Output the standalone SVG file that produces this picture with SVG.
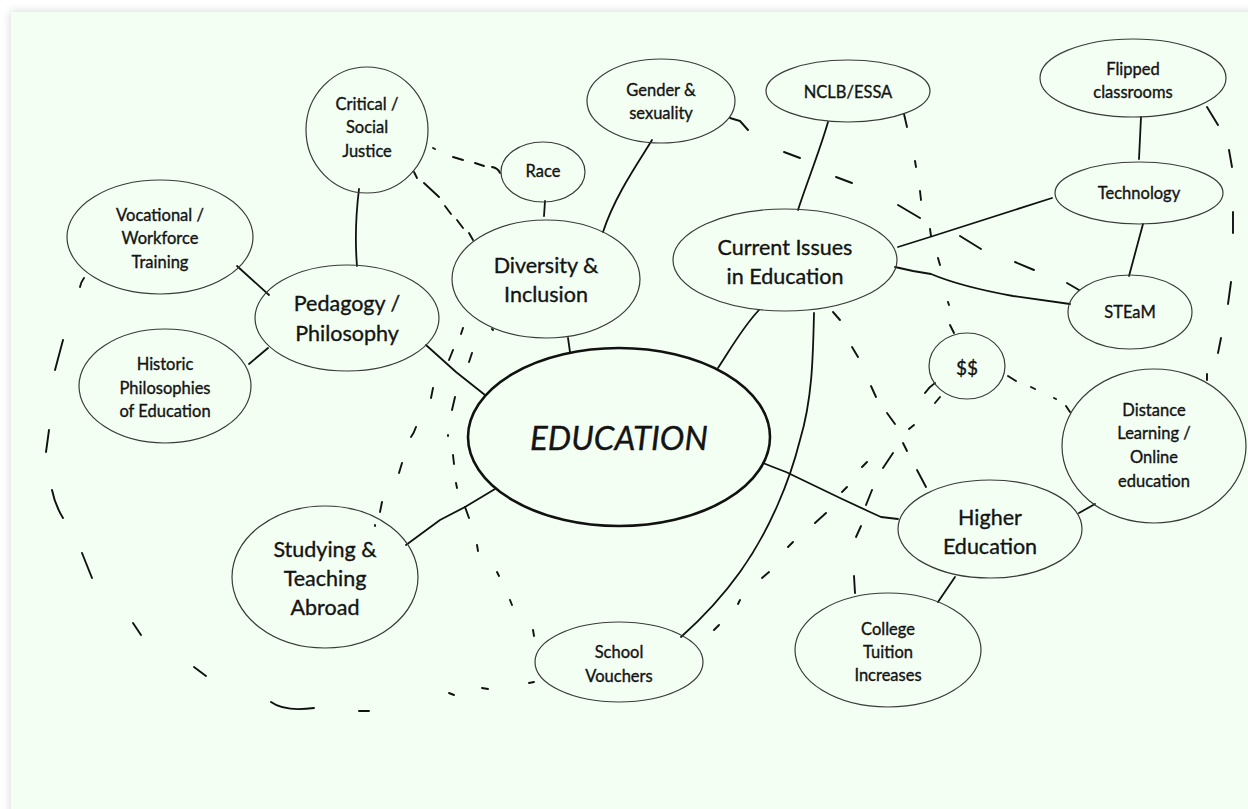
<svg xmlns="http://www.w3.org/2000/svg" width="1248" height="809" viewBox="0 0 1248 809">
<defs>
<filter id="sh" x="-5%" y="-5%" width="110%" height="110%">
<feGaussianBlur stdDeviation="5"/>
</filter>
<style>
.node ellipse{fill:none;stroke:#3a3a3a;stroke-width:1.2}
.node text{font-family:Lato,"Open Sans","Liberation Sans",sans-serif;fill:#141414;stroke:#141414;stroke-width:0.35;text-anchor:middle;dominant-baseline:central}
.s{font-size:16.5px}
.l{font-size:21.5px}
.solid path{fill:none;stroke:#111;stroke-width:1.8;stroke-linecap:round;stroke-linejoin:round}
.dash path{fill:none;stroke:#111;stroke-width:1.9;stroke-linecap:round;stroke-linejoin:round}
</style>
</defs>
<rect width="1248" height="809" fill="#ffffff"/>
<rect x="11" y="12" width="1260" height="820" fill="#b5b5b5" filter="url(#sh)" opacity="0.6"/>
<rect x="11" y="12" width="1237" height="797" fill="#f3fff3"/>

<g id="connectors">
<g class="solid">
<path d="M359,189 Q354,230 357,266"/>
<path d="M237,266 L269,295"/>
<path d="M249,364 L268,348"/>
<path d="M426,345 L456,372 L485,395"/>
<path d="M545,201 L544,216"/>
<path d="M652,140 C640,160 615,195 603,232"/>
<path d="M568,338 L570,352"/>
<path d="M828,122 C820,150 806,185 798,210"/>
<path d="M759,310 C742,328 730,350 718,368"/>
<path d="M814,313 C813,360 812,400 800,440 C790,480 770,530 740,572 C720,600 700,620 681,637"/>
<path d="M763,463 L773,467 L786,472 L840,498 L870,512 L881,517 L898,519"/>
<path d="M1079,513 L1095,504"/>
<path d="M955,577 L938,602"/>
<path d="M898,247 L930,237 L1052,198"/>
<path d="M895,267 L913,271 L931,274 C950,282 980,290 1013,296 L1070,304"/>
<path d="M1141,117 L1139,159"/>
<path d="M1143,224 L1129,276"/>
<path d="M406,545 L440,520 L465,507 L495,489"/>
</g>
<g class="dash">
<path d="M433,148 L435,149 M453,157 L463,160 M475,163 L484,166 M492,167 Q498,168 500,173"/>
<path d="M414,172 L417,178 M424,183 L439,197 M445,206 L451,214 M457,220 L463,228 M469,233 L473,240"/>
<path d="M730,118 L740,121 L748,130 M784,152 L800,158 M836,177 L852,183 M898,205 L920,218 M960,236 L981,249 M1015,262 L1034,270 M1067,283 L1079,290"/>
<path d="M904,114 L907,127 M915,161 L916,167 M920,191 L921,200 M930,229 L931,236 M938,258 L940,265 M948,302 L949,305 M950,325 L954,333"/>
<path d="M1207,107 L1218,125 M1229,150 L1232,167 M1233,212 L1233,233 M1231,282 L1228,304 M1221,338 L1218,353 M1207,374 L1207,380"/>
<path d="M1008,376 L1016,381 M1031,387 L1035,389 M1054,398 L1056,399 M1066,406 L1070,412"/>
<path d="M833,312 L840,320 M852,347 L858,357 M871,386 L876,397 M887,413 L895,424 M903,443 L907,451 M917,470 L926,487"/>
<path d="M935,383 Q929,387 925,393 M914,425 L909,429 M893,453 L883,468 M872,490 L866,505 M861,526 L856,537 M854,576 L855,593"/>
<path d="M940,397 L935,403 M867,462 L862,467 M847,487 L842,492 M826,513 L815,523 M793,542 L788,547 M769,572 L762,578 M740,600 L738,604 M719,625 L714,630"/>
<path d="M84,278 Q81,282 80,287 M63,340 L55,370 M49,430 L46,452 M52,490 Q55,505 63,518 M82,553 L92,578 M133,623 L141,635 M194,667 L206,676 M271,702 Q285,712 314,708 M359,711 L369,711 M449,693 L454,695 M482,688 L488,689 M529,683 L534,682"/>
<path d="M463,328 L461,334 M453,350 L449,360 M433,388 L431,398 M416,427 Q414,433 411,437 M402,463 L399,473 M382,502 L380,512 M375,525 L375,526"/>
<path d="M492,329 L493,330 M472,353 L469,362 M455,397 L452,410 M448,435 L448,436 M453,455 L454,464 M456,483 L457,488 M465,507 L469,518 M477,545 L478,551 M497,572 L499,576 M510,600 L512,605 M533,630 L534,636"/>
</g>
</g>

<g id="critical" class="node"><ellipse cx="367" cy="130" rx="61" ry="63"/><text class="s" x="367" y="104">Critical /</text><text class="s" x="367" y="127">Social</text><text class="s" x="367" y="151">Justice</text></g>
<g id="vocational" class="node"><ellipse cx="160" cy="237" rx="93" ry="57"/><text class="s" x="160" y="215">Vocational /</text><text class="s" x="160" y="238">Workforce</text><text class="s" x="160" y="262">Training</text></g>
<g id="historic" class="node"><ellipse cx="165" cy="386" rx="86" ry="57"/><text class="s" x="165" y="364">Historic</text><text class="s" x="165" y="388">Philosophies</text><text class="s" x="165" y="411">of Education</text></g>
<g id="pedagogy" class="node"><ellipse cx="347" cy="318" rx="92" ry="53"/><text class="l" x="347" y="303">Pedagogy /</text><text class="l" x="347" y="333">Philosophy</text></g>
<g id="race" class="node"><ellipse cx="543" cy="172" rx="42" ry="30"/><text class="s" x="543" y="171">Race</text></g>
<g id="gender" class="node"><ellipse cx="661" cy="101" rx="74" ry="42"/><text class="s" x="661" y="90">Gender &amp;</text><text class="s" x="661" y="113">sexuality</text></g>
<g id="diversity" class="node"><ellipse cx="546" cy="279" rx="94" ry="59"/><text class="l" x="546" y="265">Diversity &amp;</text><text class="l" x="546" y="294">Inclusion</text></g>
<g id="nclb" class="node"><ellipse cx="848" cy="91" rx="82" ry="31"/><text class="s" x="848" y="92">NCLB/ESSA</text></g>
<g id="current" class="node"><ellipse cx="785" cy="260" rx="112" ry="51"/><text class="l" x="785" y="247">Current Issues</text><text class="l" x="785" y="276">in Education</text></g>
<g id="flipped" class="node"><ellipse cx="1133" cy="78" rx="93" ry="39"/><text class="s" x="1133" y="69">Flipped</text><text class="s" x="1133" y="92">classrooms</text></g>
<g id="technology" class="node"><ellipse cx="1139" cy="193" rx="84" ry="31"/><text class="s" x="1139" y="193">Technology</text></g>
<g id="steam" class="node"><ellipse cx="1130" cy="312" rx="62" ry="37"/><text class="s" x="1130" y="312">STEaM</text></g>
<g id="money" class="node"><ellipse cx="967" cy="366" rx="38" ry="33"/><text x="967" y="367" style="font-size:19px">$$</text></g>
<g id="distance" class="node"><ellipse cx="1154" cy="446" rx="92" ry="77"/><text class="s" x="1154" y="410">Distance</text><text class="s" x="1154" y="433">Learning /</text><text class="s" x="1154" y="457">Online</text><text class="s" x="1154" y="481">education</text></g>
<g id="education" class="node"><ellipse cx="619" cy="437" rx="151" ry="89" style="stroke:#111;stroke-width:2.6"/><text x="619" y="437" style="font-size:33px;font-style:italic">EDUCATION</text></g>
<g id="higher" class="node"><ellipse cx="990" cy="529" rx="92" ry="49"/><text class="l" x="990" y="517">Higher</text><text class="l" x="990" y="546">Education</text></g>
<g id="college" class="node"><ellipse cx="888" cy="650" rx="93" ry="57"/><text class="s" x="888" y="629">College</text><text class="s" x="888" y="652">Tuition</text><text class="s" x="888" y="675">Increases</text></g>
<g id="vouchers" class="node"><ellipse cx="619" cy="662" rx="84" ry="40"/><text class="s" x="619" y="652">School</text><text class="s" x="619" y="676">Vouchers</text></g>
<g id="abroad" class="node"><ellipse cx="325" cy="577" rx="93" ry="71"/><text class="l" x="325" y="549">Studying &amp;</text><text class="l" x="325" y="578">Teaching</text><text class="l" x="325" y="607">Abroad</text></g>
</svg>
